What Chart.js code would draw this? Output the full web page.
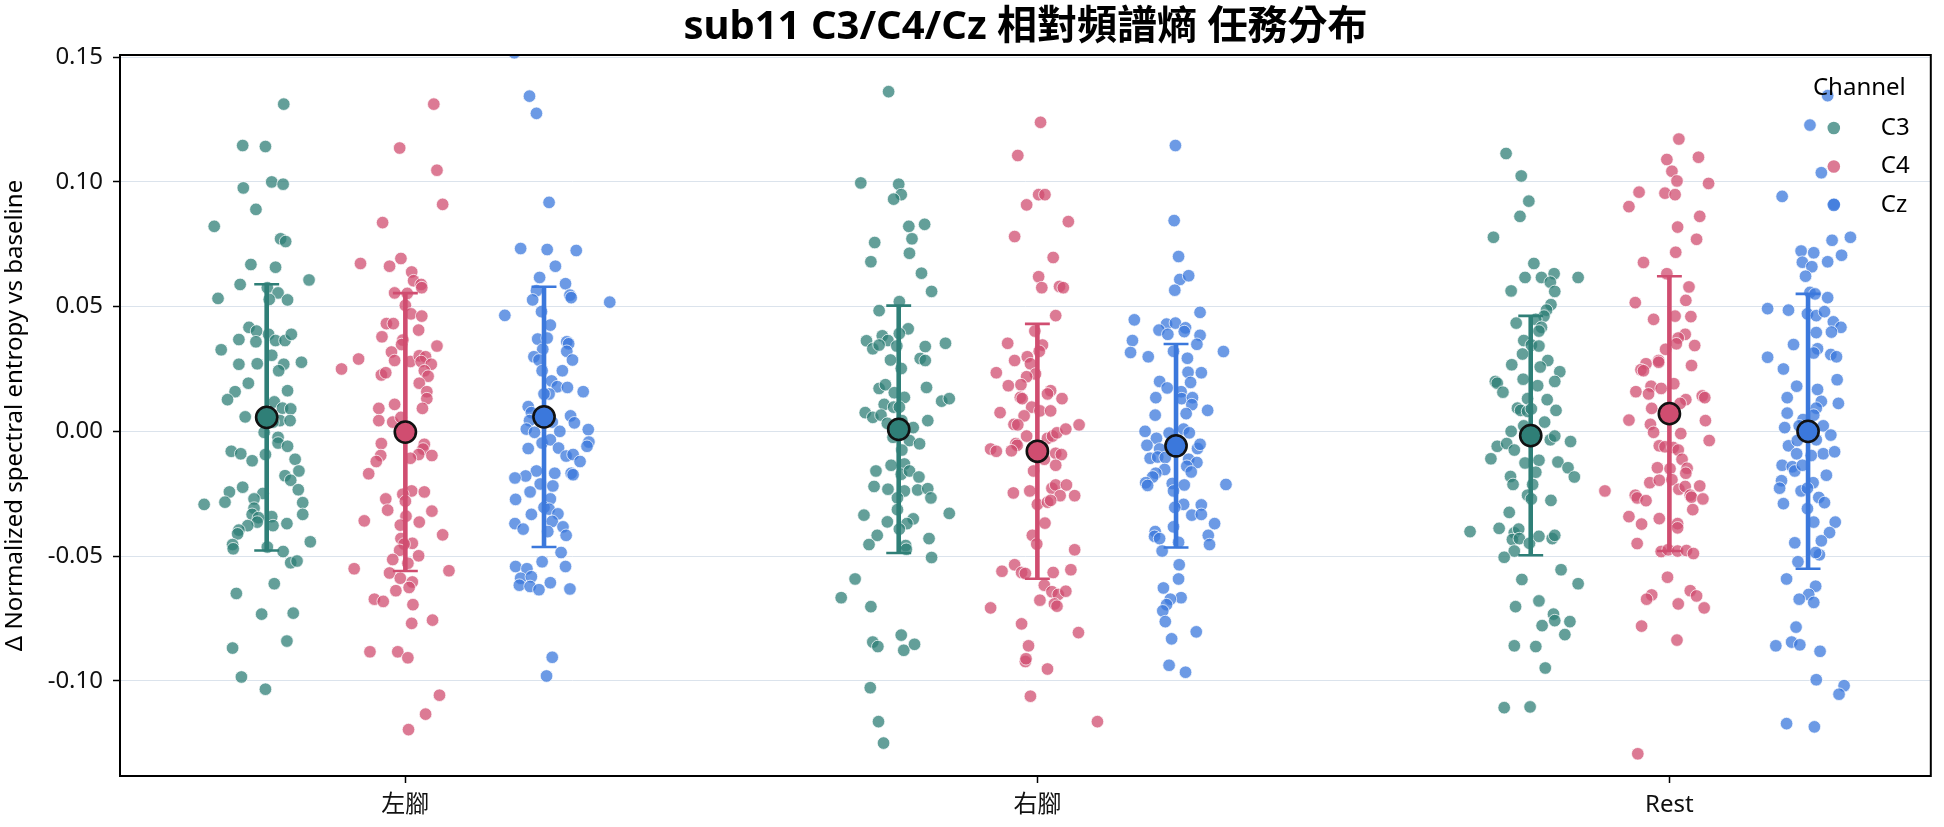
<!DOCTYPE html>
<html>
<head>
<meta charset="utf-8">
<title>sub11 C3/C4/Cz 相對頻譜熵 任務分布</title>
<script src="https://cdn.jsdelivr.net/npm/chart.js@4.4.1/dist/chart.umd.min.js"></script>
<style>
  html, body { margin: 0; padding: 0; background: #fff; }
  #chart { display: block; }
</style>
</head>
<body>
<canvas id="chart" width="1944" height="827" style="width:1944px;height:827px"></canvas>
<script>
// categories / channels / ticks
const categories = ['左腳', '右腳', 'Rest'];
const channels = ['C3', 'C4', 'Cz'];
const yTicks = [-0.10, -0.05, 0.00, 0.05, 0.10, 0.15];
const titleText = 'sub11 C3/C4/Cz 相對頻譜熵 任務分布';
const yTitle = 'Δ Normalized spectral entropy vs baseline';

// mean and sd per category (左腳, 右腳, Rest)
const c3Mean = [0.0056, 0.0008, -0.0017];
const c4Mean = [-0.0003, -0.0080, 0.0071];
const czMean = [0.0058, -0.0058, 0.0000];
const c3Sd = [0.0534, 0.0496, 0.0480];
const c4Sd = [0.0557, 0.0511, 0.0551];
const czSd = [0.0522, 0.0408, 0.0551];

// single trials: [jitter, value]
const c3Left = [[0.027,0.1312],[-0.038,0.1146],[-0.002,0.1142],[-0.037,0.0976],[0.008,0.1000],[0.026,0.0991],[-0.017,0.0890],[-0.083,0.0822],[0.022,0.0772],[0.030,0.0761],[-0.025,0.0669],[0.014,0.0658],[-0.042,0.0589],[0.067,0.0607],[-0.077,0.0533],[0.001,0.0576],[0.018,0.0555],[0.004,0.0529],[0.033,0.0527],[-0.028,0.0417],[-0.016,0.0402],[-0.044,0.0368],[-0.017,0.0359],[0.003,0.0389],[0.014,0.0364],[0.029,0.0364],[0.039,0.0389],[-0.072,0.0327],[-0.044,0.0269],[-0.015,0.0271],[0.008,0.0305],[0.027,0.0269],[0.019,0.0243],[0.055,0.0277],[-0.029,0.0193],[-0.050,0.0159],[-0.062,0.0127],[0.033,0.0163],[-0.034,0.0058],[0.012,0.0118],[0.025,0.0093],[0.038,0.0090],[0.021,0.0043],[0.037,0.0043],[0.010,0.0037],[-0.004,-0.0004],[0.018,-0.0024],[0.018,-0.0047],[0.033,-0.0060],[-0.056,-0.0080],[-0.041,-0.0090],[-0.023,-0.0118],[-0.002,-0.0093],[0.045,-0.0112],[0.051,-0.0159],[0.029,-0.0178],[0.038,-0.0196],[0.050,-0.0234],[-0.038,-0.0224],[-0.059,-0.0243],[-0.006,-0.0249],[-0.099,-0.0293],[-0.066,-0.0284],[-0.020,-0.0271],[0.057,-0.0286],[-0.020,-0.0308],[-0.023,-0.0333],[-0.013,-0.0346],[0.057,-0.0333],[0.008,-0.0342],[-0.015,-0.0364],[-0.030,-0.0378],[0.010,-0.0378],[0.032,-0.0370],[-0.044,-0.0396],[-0.046,-0.0411],[-0.054,-0.0454],[-0.053,-0.0471],[0.001,-0.0464],[0.069,-0.0443],[0.026,-0.0482],[0.038,-0.0527],[0.048,-0.0520],[0.012,-0.0611],[-0.048,-0.0650],[-0.008,-0.0733],[0.042,-0.0729],[0.032,-0.0841],[-0.054,-0.0869],[-0.040,-0.0985],[-0.002,-0.1034]];
const c4Left = [[0.045,0.1312],[-0.009,0.1136],[0.050,0.1047],[0.059,0.0910],[-0.036,0.0837],[-0.071,0.0673],[-0.025,0.0662],[-0.007,0.0693],[0.010,0.0639],[0.013,0.0604],[0.025,0.0589],[0.026,0.0576],[-0.017,0.0555],[0.003,0.0553],[0,0.0505],[0.009,0.0471],[0.026,0.0462],[-0.030,0.0432],[-0.019,0.0432],[0.021,0.0406],[-0.037,0.0379],[-0.004,0.0366],[-0.006,0.0348],[0.050,0.0342],[-0.022,0.0318],[-0.074,0.0290],[-0.101,0.0250],[-0.017,0.0284],[0.008,0.0280],[0.022,0.0303],[0.032,0.0299],[0.025,0.0280],[0.041,0.0269],[-0.038,0.0226],[-0.031,0.0235],[0.030,0.0243],[0.036,0.0221],[0.022,0.0193],[0.034,0.0159],[0.034,0.0131],[0.027,0.0092],[-0.017,0.0108],[-0.042,0.0092],[-0.042,0.0043],[-0.020,0.0037],[-0.007,0.0056],[-0.038,-0.0049],[0.030,-0.0052],[0.028,-0.0071],[0.021,-0.0093],[0.042,-0.0097],[0.008,-0.0108],[-0.039,-0.0097],[-0.046,-0.0121],[-0.058,-0.0170],[0.010,-0.0239],[0.030,-0.0243],[-0.004,-0.0252],[0,-0.0280],[-0.031,-0.0271],[-0.028,-0.0316],[0.042,-0.0320],[0.001,-0.0340],[-0.065,-0.0359],[0.022,-0.0364],[-0.008,-0.0376],[0.059,-0.0415],[-0.007,-0.0430],[0.011,-0.0449],[-0.002,-0.0452],[-0.009,-0.0477],[0.021,-0.0499],[-0.020,-0.0514],[0.004,-0.0529],[-0.081,-0.0551],[0.069,-0.0559],[-0.025,-0.0568],[-0.008,-0.0589],[0.011,-0.0604],[0.006,-0.0626],[-0.015,-0.0639],[-0.049,-0.0673],[-0.035,-0.0682],[0.012,-0.0695],[0.010,-0.0770],[0.043,-0.0757],[-0.056,-0.0884],[-0.012,-0.0884],[0.004,-0.0908],[0.054,-0.1058],[0.032,-0.1134],[0.005,-0.1196]];
const czLeft = [[-0.047,0.1518],[-0.023,0.1344],[-0.012,0.1275],[0.008,0.0918],[-0.037,0.0733],[0.005,0.0729],[0.051,0.0725],[0.018,0.0662],[-0.007,0.0617],[0.034,0.0592],[-0.012,0.0564],[0.041,0.0546],[0.043,0.0536],[-0.018,0.0527],[0.104,0.0518],[-0.062,0.0465],[-0.004,0.0480],[0.010,0.0426],[-0.010,0.0370],[0.005,0.0374],[0.036,0.0359],[0.039,0.0351],[0.036,0.0321],[-0.002,0.0329],[-0.016,0.0299],[-0.008,0.0286],[0.045,0.0286],[0.029,0.0243],[-0.003,0.0243],[0.012,0.0202],[0.021,0.0179],[0.037,0.0176],[0.008,0.0150],[0,0.0150],[0.062,0.0159],[-0.025,0.0099],[-0.020,0.0075],[-0.023,0.0043],[-0.028,0.0009],[-0.015,-0.0004],[0.013,0.0037],[0.025,0],[0.042,0.0062],[0.048,0.0034],[0.070,0.0007],[0.071,-0.0043],[0.068,-0.0060],[-0.003,-0.0047],[0.010,-0.0034],[0.023,-0.0067],[-0.025,-0.0069],[0.035,-0.0099],[0.046,-0.0093],[0.057,-0.0121],[0.043,-0.0168],[0.046,-0.0174],[0.017,-0.0168],[-0.012,-0.0159],[-0.029,-0.0179],[-0.046,-0.0187],[-0.006,-0.0211],[0.014,-0.0219],[-0.022,-0.0243],[-0.045,-0.0273],[0.010,-0.0271],[0,-0.0305],[0.008,-0.0312],[-0.020,-0.0333],[0.022,-0.0331],[0.013,-0.0361],[-0.046,-0.0370],[-0.033,-0.0392],[0.030,-0.0383],[0.006,-0.0402],[0.035,-0.0417],[0.027,-0.0486],[-0.003,-0.0523],[-0.045,-0.0542],[-0.027,-0.0551],[0.034,-0.0542],[-0.037,-0.0589],[-0.020,-0.0583],[-0.039,-0.0617],[-0.022,-0.0622],[-0.008,-0.0635],[0.010,-0.0607],[0.041,-0.0632],[0.013,-0.0906],[0.004,-0.0981]];
const c3Right = [[-0.016,0.1362],[-0.060,0.0996],[0,0.0991],[0.004,0.0949],[-0.008,0.0931],[0.016,0.0822],[0.041,0.0830],[0.021,0.0772],[-0.038,0.0757],[0.017,0.0714],[-0.044,0.0680],[0.036,0.0634],[0.052,0.0561],[0.001,0.0520],[-0.031,0.0484],[0.015,0.0411],[0.001,0.0392],[-0.026,0.0383],[-0.017,0.0364],[-0.051,0.0363],[-0.041,0.0331],[-0.031,0.0346],[-0.003,0.0342],[0.042,0.0340],[0.074,0.0353],[0.034,0.0292],[0.042,0.0284],[-0.013,0.0286],[0.004,0.0252],[-0.031,0.0172],[-0.021,0.0187],[-0.007,0.0155],[0.009,0.0136],[0.044,0.0176],[0.068,0.0121],[0.080,0.0131],[-0.023,0.0108],[-0.008,0.0097],[0.001,0.0097],[-0.053,0.0075],[-0.041,0.0056],[-0.028,0.0065],[-0.018,0.0032],[0.005,0.0043],[0.046,0.0043],[0.023,0.0015],[-0.009,-0.0024],[0.017,-0.0037],[0.033,-0.0050],[0.005,-0.0075],[-0.012,-0.0136],[0.009,-0.0131],[-0.036,-0.0159],[0.004,-0.0172],[0.017,-0.0159],[0.032,-0.0183],[-0.039,-0.0221],[-0.017,-0.0232],[0.009,-0.0239],[0.030,-0.0235],[0.046,-0.0230],[0.051,-0.0267],[-0.002,-0.0267],[-0.055,-0.0336],[-0.002,-0.0314],[0.080,-0.0329],[-0.018,-0.0363],[0.023,-0.0351],[0.013,-0.0370],[0.001,-0.0392],[-0.034,-0.0417],[-0.047,-0.0454],[0.011,-0.0458],[0.012,-0.0473],[0.048,-0.0430],[0.052,-0.0506],[-0.069,-0.0592],[-0.091,-0.0667],[-0.044,-0.0703],[-0.041,-0.0845],[-0.033,-0.0863],[0.004,-0.0817],[0.008,-0.0878],[0.025,-0.0854],[-0.045,-0.1028],[-0.032,-0.1164],[-0.024,-0.1250]];
const c4Right = [[0.005,0.1239],[-0.031,0.1106],[0.002,0.0949],[0.012,0.0949],[-0.017,0.0908],[0.049,0.0841],[-0.036,0.0781],[0.025,0.0697],[0.002,0.0620],[0.007,0.0576],[0.035,0.0581],[0.041,0.0576],[0.029,0.0464],[-0.004,0.0402],[-0.047,0.0353],[0.008,0.0346],[0.003,0.0321],[-0.036,0.0284],[-0.016,0.0299],[-0.065,0.0235],[-0.011,0.0271],[-0.003,0.0230],[-0.017,0.0219],[-0.046,0.0183],[-0.026,0.0187],[0.021,0.0163],[0.016,0.0150],[0.039,0.0131],[-0.027,0.0136],[-0.024,0.0131],[-0.009,0.0097],[0.004,0.0082],[0.021,0.0082],[-0.059,0.0075],[-0.021,0.0062],[-0.037,0.0028],[-0.031,0.0026],[-0.017,-0.0019],[0.016,-0.0028],[0.024,-0.0019],[0.031,-0.0006],[0.045,0.0009],[0.066,0.0026],[-0.034,-0.0049],[-0.032,-0.0056],[-0.074,-0.0071],[-0.065,-0.0080],[-0.041,-0.0078],[0.008,-0.0065],[0.011,-0.0112],[0.029,-0.0088],[0.038,-0.0093],[0.029,-0.0136],[-0.006,-0.0159],[-0.038,-0.0247],[-0.012,-0.0239],[0.023,-0.0228],[0.029,-0.0215],[0.046,-0.0215],[0.036,-0.0258],[0.059,-0.0258],[0,-0.0293],[0.016,-0.0284],[0.021,-0.0277],[0.012,-0.0368],[-0.008,-0.0417],[-0.001,-0.0452],[0.059,-0.0475],[-0.036,-0.0535],[-0.056,-0.0561],[-0.025,-0.0566],[-0.019,-0.0570],[0.025,-0.0566],[0.053,-0.0555],[0.011,-0.0617],[0.004,-0.0677],[0.023,-0.0643],[0.033,-0.0654],[0.045,-0.0641],[0.027,-0.0692],[0.031,-0.0701],[-0.074,-0.0708],[-0.025,-0.0772],[0.065,-0.0807],[-0.014,-0.0860],[-0.019,-0.0923],[-0.018,-0.0912],[0.016,-0.0953],[-0.011,-0.1062],[0.095,-0.1164]];
const czRight = [[-0.001,0.1146],[-0.003,0.0845],[0.004,0.0701],[0.006,0.0609],[0.020,0.0624],[-0.002,0.0566],[0.038,0.0477],[-0.066,0.0447],[-0.015,0.0430],[-0.001,0.0434],[-0.027,0.0406],[0.015,0.0415],[-0.013,0.0389],[0.013,0.0400],[0.038,0.0385],[-0.069,0.0364],[0.033,0.0349],[-0.072,0.0316],[-0.044,0.0299],[-0.004,0.0321],[0.075,0.0320],[0.018,0.0293],[0.019,0.0237],[0.040,0.0235],[-0.026,0.0200],[-0.014,0.0174],[0.023,0.0196],[0.008,0.0159],[-0.032,0.0135],[0.009,0.0131],[0.026,0.0135],[0.025,0.0107],[0.016,0.0071],[0.050,0.0084],[-0.033,0.0065],[-0.049,0],[-0.031,-0.0028],[-0.011,-0.0007],[0.012,0.0009],[0.021,-0.0006],[-0.046,-0.0056],[-0.026,-0.0071],[0.034,-0.0069],[0.038,-0.0052],[-0.041,-0.0108],[-0.029,-0.0103],[-0.017,-0.0105],[0.020,-0.0112],[0.033,-0.0125],[0.017,-0.0140],[0.024,-0.0163],[-0.018,-0.0153],[-0.032,-0.0168],[-0.037,-0.0183],[-0.048,-0.0206],[-0.045,-0.0217],[-0.006,-0.0209],[0.013,-0.0215],[0.079,-0.0213],[-0.004,-0.0239],[0.012,-0.0293],[-0.002,-0.0305],[0.040,-0.0295],[0.025,-0.0336],[0.040,-0.0333],[0.061,-0.0370],[-0.004,-0.0383],[-0.033,-0.0402],[-0.034,-0.0421],[-0.026,-0.0430],[0.051,-0.0417],[0.053,-0.0454],[0.004,-0.0445],[-0.022,-0.0480],[0.005,-0.0535],[0.004,-0.0592],[-0.020,-0.0628],[0.008,-0.0667],[-0.009,-0.0673],[-0.015,-0.0695],[-0.021,-0.0720],[-0.017,-0.0763],[0.032,-0.0804],[-0.007,-0.0832],[-0.011,-0.0938],[0.015,-0.0966]];
const c3Rest = [[-0.039,0.1114],[-0.015,0.1024],[-0.003,0.0923],[-0.017,0.0862],[-0.059,0.0778],[0.005,0.0673],[-0.009,0.0617],[0.017,0.0617],[0.037,0.0632],[0.031,0.0598],[0.075,0.0617],[0.038,0.0561],[-0.031,0.0563],[0.032,0.0508],[0.025,0.0486],[0.021,0.0462],[-0.023,0.0434],[0.008,0.0449],[0.017,0.0417],[0.013,0.0402],[-0.011,0.0364],[0.001,0.0346],[0.013,0.0342],[-0.013,0.0310],[0.027,0.0284],[-0.030,0.0267],[0.015,0.0258],[0.046,0.0239],[-0.056,0.0200],[-0.053,0.0193],[-0.012,0.0209],[0.011,0.0183],[0.038,0.0200],[-0.044,0.0157],[-0.005,0.0131],[0.026,0.0127],[-0.021,0.0093],[-0.016,0.0084],[-0.005,0.0080],[0.001,0.0090],[0.040,0.0084],[0.022,0.0037],[-0.011,0.0022],[-0.031,0],[0.031,-0.0034],[0.038,-0.0019],[0.063,-0.0041],[-0.053,-0.0060],[-0.038,-0.0049],[-0.026,-0.0075],[-0.063,-0.0110],[-0.009,-0.0127],[0.013,-0.0116],[0.043,-0.0123],[0.059,-0.0146],[0.008,-0.0164],[0.069,-0.0183],[-0.032,-0.0181],[-0.028,-0.0213],[0.003,-0.0213],[-0.005,-0.0256],[0.001,-0.0271],[0.032,-0.0277],[-0.034,-0.0325],[-0.096,-0.0402],[-0.050,-0.0389],[-0.026,-0.0407],[-0.019,-0.0392],[-0.029,-0.0434],[-0.018,-0.0430],[-0.002,-0.0449],[0.013,-0.0421],[0.034,-0.0430],[0.038,-0.0417],[-0.026,-0.0480],[-0.042,-0.0505],[0.048,-0.0555],[-0.014,-0.0594],[0.075,-0.0611],[0.013,-0.0680],[-0.024,-0.0703],[0.036,-0.0733],[0.038,-0.0759],[0.062,-0.0763],[0.018,-0.0779],[0.054,-0.0815],[-0.026,-0.0860],[0.008,-0.0863],[0.023,-0.0949],[-0.042,-0.1108],[-0.001,-0.1105]];
const c4Rest = [[0.015,0.1172],[-0.004,0.1090],[0.046,0.1099],[0.004,0.1043],[0.012,0.1004],[0.062,0.0994],[-0.048,0.0959],[-0.007,0.0955],[0.009,0.0949],[-0.064,0.0901],[0.048,0.0862],[0.013,0.0819],[0.043,0.0770],[0.010,0.0718],[-0.041,0.0677],[-0.004,0.0632],[0.031,0.0579],[0.026,0.0525],[-0.054,0.0516],[0.009,0.0462],[0.034,0.0460],[-0.025,0.0449],[0.025,0.0389],[0.014,0.0374],[0.011,0.0351],[0.040,0.0344],[-0.006,0.0329],[-0.017,0.0284],[-0.037,0.0271],[-0.017,0.0277],[-0.045,0.0247],[-0.041,0.0243],[0.035,0.0264],[0.007,0.0191],[-0.029,0.0181],[-0.013,0.0172],[-0.053,0.0159],[-0.033,0.0150],[0.026,0.0127],[0.017,0.0112],[0.052,0.0142],[0.056,0.0135],[-0.028,0.0092],[-0.064,0.0045],[-0.030,0.0028],[0.057,0.0043],[-0.025,-0.0004],[0.018,-0.0009],[0.063,-0.0037],[-0.016,-0.0058],[-0.007,-0.0062],[0.006,-0.0065],[0.014,-0.0075],[0.020,-0.0112],[0.028,-0.0148],[-0.019,-0.0146],[0.001,-0.0150],[0.026,-0.0168],[-0.031,-0.0206],[-0.016,-0.0196],[0.004,-0.0194],[0.015,-0.0232],[0.025,-0.0221],[0.048,-0.0219],[-0.102,-0.0239],[-0.054,-0.0256],[-0.051,-0.0267],[-0.037,-0.0278],[0.033,-0.0256],[0.035,-0.0264],[0.053,-0.0271],[0.037,-0.0314],[-0.064,-0.0342],[-0.044,-0.0372],[-0.016,-0.0350],[0.013,-0.0370],[0.013,-0.0387],[-0.051,-0.0450],[-0.013,-0.0482],[-0.002,-0.0475],[0.013,-0.0480],[0.027,-0.0478],[0.038,-0.0490],[-0.003,-0.0585],[-0.028,-0.0656],[-0.036,-0.0673],[0.033,-0.0639],[0.043,-0.0660],[0.014,-0.0692],[0.055,-0.0708],[-0.044,-0.0781],[0.012,-0.0837],[-0.050,-0.1293]];
const czRest = [[0.031,0.1346],[0.003,0.1228],[0.021,0.1037],[-0.041,0.0942],[0.041,0.0910],[0.067,0.0778],[0.038,0.0766],[-0.011,0.0723],[0.009,0.0716],[0.053,0.0706],[-0.009,0.0678],[0.006,0.0660],[0.031,0.0680],[-0.004,0.0622],[0.003,0.0557],[0.011,0.0551],[0.031,0.0536],[-0.064,0.0492],[-0.031,0.0486],[-0.001,0.0471],[0.013,0.0464],[0.026,0.0480],[0.040,0.0439],[0.052,0.0417],[0.037,0.0398],[0.013,0.0396],[-0.023,0.0348],[0.015,0.0331],[0.009,0.0314],[0.036,0.0308],[0.045,0.0299],[-0.064,0.0297],[-0.039,0.0250],[0.046,0.0207],[-0.018,0.0181],[0.015,0.0168],[0.021,0.0120],[-0.033,0.0135],[0.048,0.0112],[0.013,0.0093],[-0.033,0.0073],[0.009,0.0065],[-0.008,0.0047],[-0.037,0.0015],[-0.014,0.0022],[0.024,0.0022],[0.036,-0.0015],[-0.031,-0.0058],[-0.017,-0.0037],[0.013,-0.0034],[0.024,-0.0090],[0.042,-0.0082],[-0.018,-0.0090],[0.005,-0.0097],[-0.041,-0.0136],[-0.025,-0.0142],[-0.021,-0.0159],[-0.009,-0.0136],[0.029,-0.0176],[-0.042,-0.0198],[-0.045,-0.0228],[0.008,-0.0206],[-0.011,-0.0239],[-0.001,-0.0228],[0.017,-0.0265],[0.026,-0.0286],[-0.039,-0.0290],[-0.001,-0.0310],[0.009,-0.0364],[0.043,-0.0364],[0.034,-0.0406],[0.021,-0.0439],[-0.021,-0.0447],[0.018,-0.0495],[0.012,-0.0486],[-0.016,-0.0523],[-0.034,-0.0592],[0.012,-0.0621],[0.001,-0.0654],[-0.014,-0.0673],[0.009,-0.0686],[-0.019,-0.0785],[-0.051,-0.0860],[-0.026,-0.0845],[-0.013,-0.0856],[0.019,-0.0882],[0.013,-0.0996],[0.057,-0.1020],[0.049,-0.1054],[-0.034,-0.1172],[0.010,-0.1185]];

// styling
const FONT = '"Noto Sans", "Noto Sans CJK TC", sans-serif';
const solid = ['rgb(47,127,119)', 'rgb(208,77,112)', 'rgb(59,120,220)'];
const faded = ['rgba(47,127,119,0.75)', 'rgba(208,77,112,0.75)', 'rgba(59,120,220,0.75)'];
const hueOffset = [-0.2194, 0, 0.2194];
const capHalf = 0.0197;

const groups = [[c3Left, c3Right, c3Rest], [c4Left, c4Right, c4Rest], [czLeft, czRight, czRest]];
const means = [c3Mean, c4Mean, czMean];
const sds = [c3Sd, c4Sd, czSd];

const datasets = [];

channels.forEach((ch, k) => {
  const pts = [];
  groups[k].forEach((g, ci) => {
    g.forEach(([dx, y]) => pts.push({ x: ci + hueOffset[k] + dx, y: y }));
  });
  datasets.push({
    label: ch,
    data: pts,
    backgroundColor: faded[k],
    borderColor: 'rgba(255,255,255,0.9)',
    borderWidth: 0.8,
    pointRadius: 6.3,
    order: 3
  });

  // error bar stems and caps
  const stems = [];
  const caps = [];
  means[k].forEach((m, ci) => {
    const x = ci + hueOffset[k];
    const lo = m - sds[k][ci];
    const hi = m + sds[k][ci];
    stems.push({ x: x, y: lo }, { x: x, y: hi }, { x: x, y: null });
    caps.push({ x: x - capHalf, y: hi }, { x: x + capHalf, y: hi }, { x: x, y: null });
    caps.push({ x: x - capHalf, y: lo }, { x: x + capHalf, y: lo }, { x: x, y: null });
  });
  datasets.push({
    type: 'line', label: ch + ' sd', data: stems,
    borderColor: solid[k], borderWidth: 4.6, pointRadius: 0, spanGaps: false, order: 2
  });
  datasets.push({
    type: 'line', label: ch + ' cap', data: caps,
    borderColor: solid[k], borderWidth: 2.6, pointRadius: 0, spanGaps: false, order: 2
  });

  datasets.push({
    label: ch + ' mean',
    data: means[k].map((m, ci) => ({ x: ci + hueOffset[k], y: m })),
    backgroundColor: solid[k],
    borderColor: '#111',
    borderWidth: 2.6,
    pointRadius: 10.6,
    order: 1
  });
});

// frame, title and legend
const decor = {
  id: 'decor',
  afterDraw(chart) {
    const ctx = chart.ctx;
    const a = chart.chartArea;
    ctx.save();
    ctx.strokeStyle = '#000';
    ctx.lineWidth = 2;
    ctx.strokeRect(a.left, a.top, a.right - a.left, a.bottom - a.top);

    ctx.fillStyle = '#000';
    ctx.textAlign = 'center';
    ctx.textBaseline = 'middle';
    ctx.font = 'bold 40px ' + FONT;
    ctx.fillText(titleText, (a.left + a.right) / 2, 28);

    ctx.font = '24px ' + FONT;
    ctx.textAlign = 'right';
    ctx.fillText('Channel', a.right - 25, a.top + 33);
    ctx.textAlign = 'left';
    channels.forEach((ch, k) => {
      const y = a.top + 73 + k * 38.5;
      ctx.beginPath();
      ctx.arc(a.right - 97, y, 6.3, 0, Math.PI * 2);
      ctx.fillStyle = faded[k];
      ctx.fill();
      ctx.fillStyle = '#000';
      ctx.fillText(ch, a.right - 50, y);
    });
    ctx.restore();
  }
};

new Chart(document.getElementById('chart'), {
  type: 'scatter',
  data: { datasets: datasets },
  plugins: [decor],
  options: {
    responsive: false,
    devicePixelRatio: 1,
    animation: false,
    events: [],
    layout: { padding: { top: 55, right: 9, left: 0, bottom: 0 } },
    plugins: {
      legend: { display: false },
      tooltip: { enabled: false },
      title: { display: false }
    },
    scales: {
      x: {
        type: 'linear',
        min: -0.4515,
        max: 2.4136,
        afterBuildTicks: axis => { axis.ticks = categories.map((c, i) => ({ value: i })); },
        afterFit: axis => { axis.height = 51; },
        border: { display: false },
        grid: { drawOnChartArea: false, tickLength: 7, tickColor: '#000', tickWidth: 1.5 },
        ticks: {
          autoSkip: false, maxRotation: 0, padding: 8,
          color: '#111', font: { family: FONT, size: 24 },
          callback: v => categories[v]
        }
      },
      y: {
        min: -0.1382,
        max: 0.1509,
        afterBuildTicks: axis => { axis.ticks = yTicks.map(v => ({ value: v })); },
        afterFit: axis => { axis.width = 120; },
        border: { display: false },
        grid: { color: '#dbe3ec', lineWidth: 1, tickLength: 7, tickColor: '#000', tickWidth: 1.5 },
        ticks: {
          padding: 10, color: '#111', font: { family: FONT, size: 24 },
          callback: v => v.toFixed(2)
        },
        title: {
          display: true, text: yTitle, color: '#000',
          font: { family: FONT, size: 24 }, padding: { top: 1, bottom: 0 }
        }
      }
    }
  }
});
</script>
</body>
</html>
